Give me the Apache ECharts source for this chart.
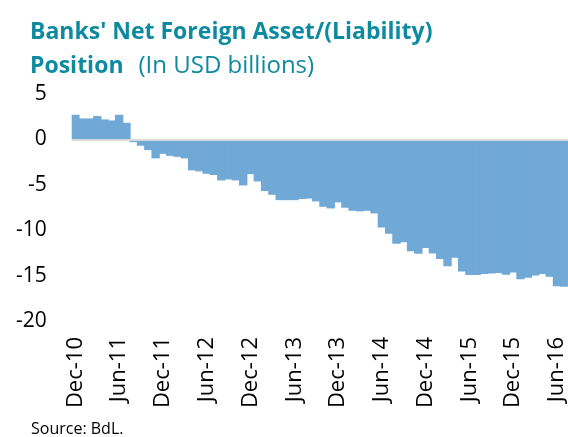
<!DOCTYPE html>
<html>
<head>
<meta charset="utf-8">
<script src="https://cdn.jsdelivr.net/npm/echarts@6/dist/echarts.min.js"></script>
<style>
html,body{margin:0;padding:0;background:#fff;}
#chart{width:568px;height:437px;}
</style>
</head>
<body>
<div id="chart"></div>
<script>
var categories = [
  'Dec-10','Jan-11','Feb-11','Mar-11','Apr-11','May-11','Jun-11','Jul-11','Aug-11','Sep-11','Oct-11','Nov-11',
  'Dec-11','Jan-12','Feb-12','Mar-12','Apr-12','May-12','Jun-12','Jul-12','Aug-12','Sep-12','Oct-12','Nov-12',
  'Dec-12','Jan-13','Feb-13','Mar-13','Apr-13','May-13','Jun-13','Jul-13','Aug-13','Sep-13','Oct-13','Nov-13',
  'Dec-13','Jan-14','Feb-14','Mar-14','Apr-14','May-14','Jun-14','Jul-14','Aug-14','Sep-14','Oct-14','Nov-14',
  'Dec-14','Jan-15','Feb-15','Mar-15','Apr-15','May-15','Jun-15','Jul-15','Aug-15','Sep-15','Oct-15','Nov-15',
  'Dec-15','Jan-16','Feb-16','Mar-16','Apr-16','May-16','Jun-16','Jul-16'
];
var netPosition = [
  2.71, 2.31, 2.31, 2.57, 2.20, 2.09, 2.71, 1.83, -0.30, -0.70, -1.18, -2.09,
  -1.59, -1.81, -1.92, -2.09, -3.41, -3.52, -3.79, -3.93, -4.52, -4.41, -4.52, -5.07,
  -3.82, -4.63, -5.69, -6.10, -6.69, -6.69, -6.69, -6.57, -6.52, -6.83, -7.42, -7.60,
  -6.94, -7.53, -7.86, -7.93, -7.86, -8.15, -9.69, -10.40, -11.50, -11.34, -12.33, -12.60,
  -11.97, -12.56, -13.18, -13.96, -13.04, -14.54, -14.94, -14.94, -14.83, -14.76, -14.72, -14.91,
  -14.65, -15.39, -15.24, -14.98, -14.83, -15.13, -16.16, -16.23
];
var yTicks = { min: -20, max: 5, interval: 5 };

var FONT = "'Open Sans', 'Noto Sans', sans-serif";
var TEAL = '#0E8AA0';
var BLUE = '#70A8D6';
var chart = echarts.init(document.getElementById('chart'), null, { renderer: 'canvas' });
chart.setOption({
  animation: false,
  backgroundColor: '#ffffff',
  title: [
    {
      text: "Banks' Net Foreign Asset/(Liability)",
      left: 25, top: 16,
      textStyle: { fontFamily: FONT, fontSize: 23, fontWeight: 'bold', color: TEAL }
    },
    {
      text: '{b|Position}   {n|(In USD billions)}',
      left: 25, top: 49,
      textStyle: {
        rich: {
          b: { fontFamily: FONT, fontSize: 23, fontWeight: 'bold', color: TEAL },
          n: { fontFamily: FONT, fontSize: 24, fontWeight: 'normal', color: TEAL }
        }
      }
    },
    {
      text: 'Source: BdL.',
      left: 26, top: 416,
      textStyle: { fontFamily: FONT, fontSize: 16, fontWeight: 'normal', color: '#000000' }
    }
  ],
  grid: { left: 71.7, right: 0, top: 94, bottom: 116, containLabel: false },
  xAxis: {
    type: 'category',
    data: categories,
    axisLine: { show: false, onZero: false },
    axisTick: { show: false },
    axisLabel: {
      interval: 5,
      rotate: 90,
      margin: 16,
      fontFamily: FONT,
      fontSize: 22,
      color: '#000000'
    },
    splitLine: { show: false }
  },
  yAxis: {
    type: 'value',
    min: yTicks.min, max: yTicks.max, interval: yTicks.interval,
    axisLine: { show: false },
    axisTick: { show: false },
    splitLine: { show: false },
    axisLabel: {
      margin: 25,
      fontFamily: FONT,
      fontSize: 21,
      color: '#000000'
    }
  },
  series: [{
    type: 'bar',
    data: netPosition,
    barWidth: 8.4,
    barCategoryGap: 0,
    itemStyle: { color: BLUE },
    markLine: {
      silent: true,
      symbol: 'none',
      label: { show: false },
      lineStyle: { color: '#D9D9D9', width: 2, type: 'solid' },
      data: [{ yAxis: 0 }]
    },
    z: 2
  }]
});
</script>
</body>
</html>
